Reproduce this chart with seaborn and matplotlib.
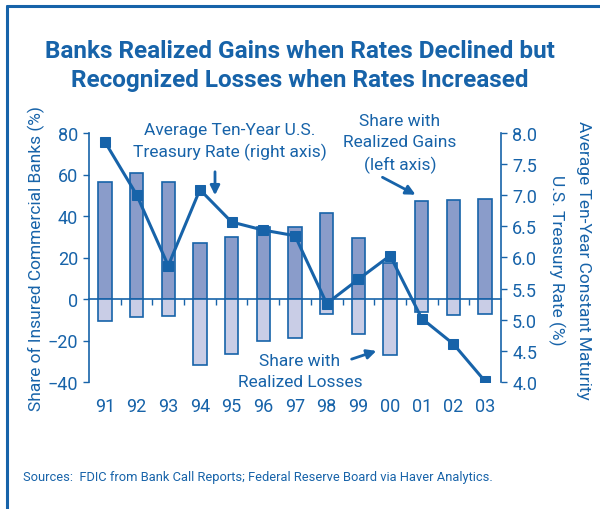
import matplotlib
matplotlib.use("Agg")
import matplotlib.pyplot as plt
from matplotlib.lines import Line2D
import numpy as np
import pandas as pd
import seaborn as sns

# Data
years = ["91", "92", "93", "94", "95", "96", "97", "98", "99", "00", "01", "02", "03"]
share_gains = [56.5, 60.7, 56.5, 27.1, 30.0, 34.5, 34.5, 41.3, 29.2, 17.2, 47.0, 47.5, 48.0]
share_losses = [-10.8, -8.8, -8.2, -32.0, -26.4, -20.0, -18.6, -7.0, -16.9, -27.0, -6.4, -7.7, -7.4]
treasury_rate = [7.86, 7.01, 5.87, 7.09, 6.57, 6.44, 6.35, 5.26, 5.65, 6.03, 5.02, 4.61, 4.01]

BLUE = "#1763a9"
GAIN_FILL = "#8a9cca"
LOSS_FILL = "#c9cde6"

sns.set_theme(style="white")
plt.rcParams["font.family"] = ["Roboto", "DejaVu Sans"]
plt.rcParams["text.color"] = BLUE
plt.rcParams["axes.labelcolor"] = BLUE

df = pd.DataFrame({"year": years, "gains": share_gains, "losses": share_losses,
                   "rate": treasury_rate, "pos": np.arange(len(years))})

fig = plt.figure(figsize=(6.0, 5.1), dpi=100)
W, H = 600, 510
ax = fig.add_axes([89 / W, 1 - 383 / H, (501 - 89) / W, (383 - 134) / H])
ax.set_facecolor("none")

sns.barplot(data=df, x="year", y="gains", color=GAIN_FILL, width=0.42,
            edgecolor=BLUE, linewidth=1.2, saturation=1, ax=ax)
sns.barplot(data=df, x="year", y="losses", color=LOSS_FILL, width=0.42,
            edgecolor=BLUE, linewidth=1.2, saturation=1, ax=ax)

ax.set_xlim(-0.5, len(years) - 0.5)
ax.set_ylim(-40, 80)
ax.set_yticks([-40, -20, 0, 20, 40, 60, 80])
ax.set_xlabel("")
ax.set_ylabel("Share of Insured Commercial Banks (%)", fontsize=12.5)
ax.yaxis.set_label_coords((45 - 89) / 412, 0.5)
ax.tick_params(axis="y", direction="out", length=4, width=1, color=BLUE,
               labelcolor=BLUE, labelsize=13, pad=4, left=True)
ax.tick_params(axis="x", length=0, labelcolor=BLUE, labelsize=13, pad=11)
ax.minorticks_off()
for s in ["top", "right", "bottom"]:
    ax.spines[s].set_visible(False)
ax.spines["left"].set_color(BLUE)
ax.spines["left"].set_linewidth(1.2)

# zero line with small ticks between bars
zero = ax.secondary_xaxis(40 / 120)
zero.set_xticks(np.arange(len(years) - 1) + 0.5)
zero.set_xticklabels([])
zero.minorticks_off()
zero.tick_params(which="major", direction="out", length=4, width=1, color=BLUE)
zero.spines["bottom"].set_color(BLUE)
zero.spines["bottom"].set_linewidth(1.2)

# right axis: treasury rate
ax2 = ax.twinx()
sns.lineplot(data=df, x="pos", y="rate", color=BLUE, linewidth=2.2,
             marker="s", markersize=7.5, markeredgecolor=BLUE, ax=ax2)
ax2.set_ylim(4.0, 8.0)
rate_ticks = np.arange(4.0, 8.01, 0.5)
ax2.set_yticks(rate_ticks)
ax2.set_yticklabels([f"{v:.1f}" for v in rate_ticks])
ax2.set_ylabel("")
ax2.set_xlabel("")
ax2.minorticks_off()
ax2.tick_params(axis="y", direction="out", length=4, width=1, color=BLUE,
                labelcolor=BLUE, labelsize=13, pad=4, right=True)
for s in ["top", "left", "bottom"]:
    ax2.spines[s].set_visible(False)
ax2.spines["right"].set_color(BLUE)
ax2.spines["right"].set_linewidth(1.2)
ax.set_xlim(-0.5, len(years) - 0.5)

fig.text(583 / W, 1 - 260 / H, "Average Ten-Year Constant Maturity", rotation=270,
         ha="center", va="center", fontsize=12.5)
fig.text(557 / W, 1 - 260 / H, "U.S. Treasury Rate (%)", rotation=270,
         ha="center", va="center", fontsize=12.5)

# title
fig.text(0.5, 1 - 52 / H, "Banks Realized Gains when Rates Declined but",
         ha="center", va="center", fontsize=17.5, fontweight="bold")
fig.text(0.5, 1 - 81 / H, "Recognized Losses when Rates Increased",
         ha="center", va="center", fontsize=17.5, fontweight="bold")

# annotations
def fpt(x, y):
    return (x / W, 1 - y / H)

arrow = dict(arrowstyle="-|>", color=BLUE, lw=2, mutation_scale=14)
fig.text(230 / W, 1 - 142 / H, "Average Ten-Year U.S.\nTreasury Rate (right axis)",
         ha="center", va="center", fontsize=12.5, linespacing=1.5)
ax.annotate("", xy=fpt(215, 199), xytext=fpt(215, 170), xycoords="figure fraction",
            textcoords="figure fraction", arrowprops=arrow)
fig.text(400 / W, 1 - 144 / H, "Share with\nRealized Gains\n(left axis)",
         ha="center", va="center", fontsize=12.5, linespacing=1.5)
ax.annotate("", xy=fpt(418, 197), xytext=fpt(380, 177), xycoords="figure fraction",
            textcoords="figure fraction", arrowprops=arrow)
fig.text(300 / W, 1 - 372 / H, "Share with\nRealized Losses",
         ha="center", va="center", fontsize=12.5, linespacing=1.5)
ax.annotate("", xy=fpt(379, 351), xytext=fpt(349, 361), xycoords="figure fraction",
            textcoords="figure fraction", arrowprops=arrow)

fig.text(23 / W, 1 - 478 / H,
         "Sources:  FDIC from Bank Call Reports; Federal Reserve Board via Haver Analytics.",
         ha="left", va="center", fontsize=9.3)

# frame
fig.add_artist(Line2D([7 / W, 7 / W], [0, 1 - 7 / H], color=BLUE, lw=2.2))
fig.add_artist(Line2D([7 / W, 1], [1 - 7 / H, 1 - 7 / H], color=BLUE, lw=2.2))

fig.savefig("out.png", dpi=100)
